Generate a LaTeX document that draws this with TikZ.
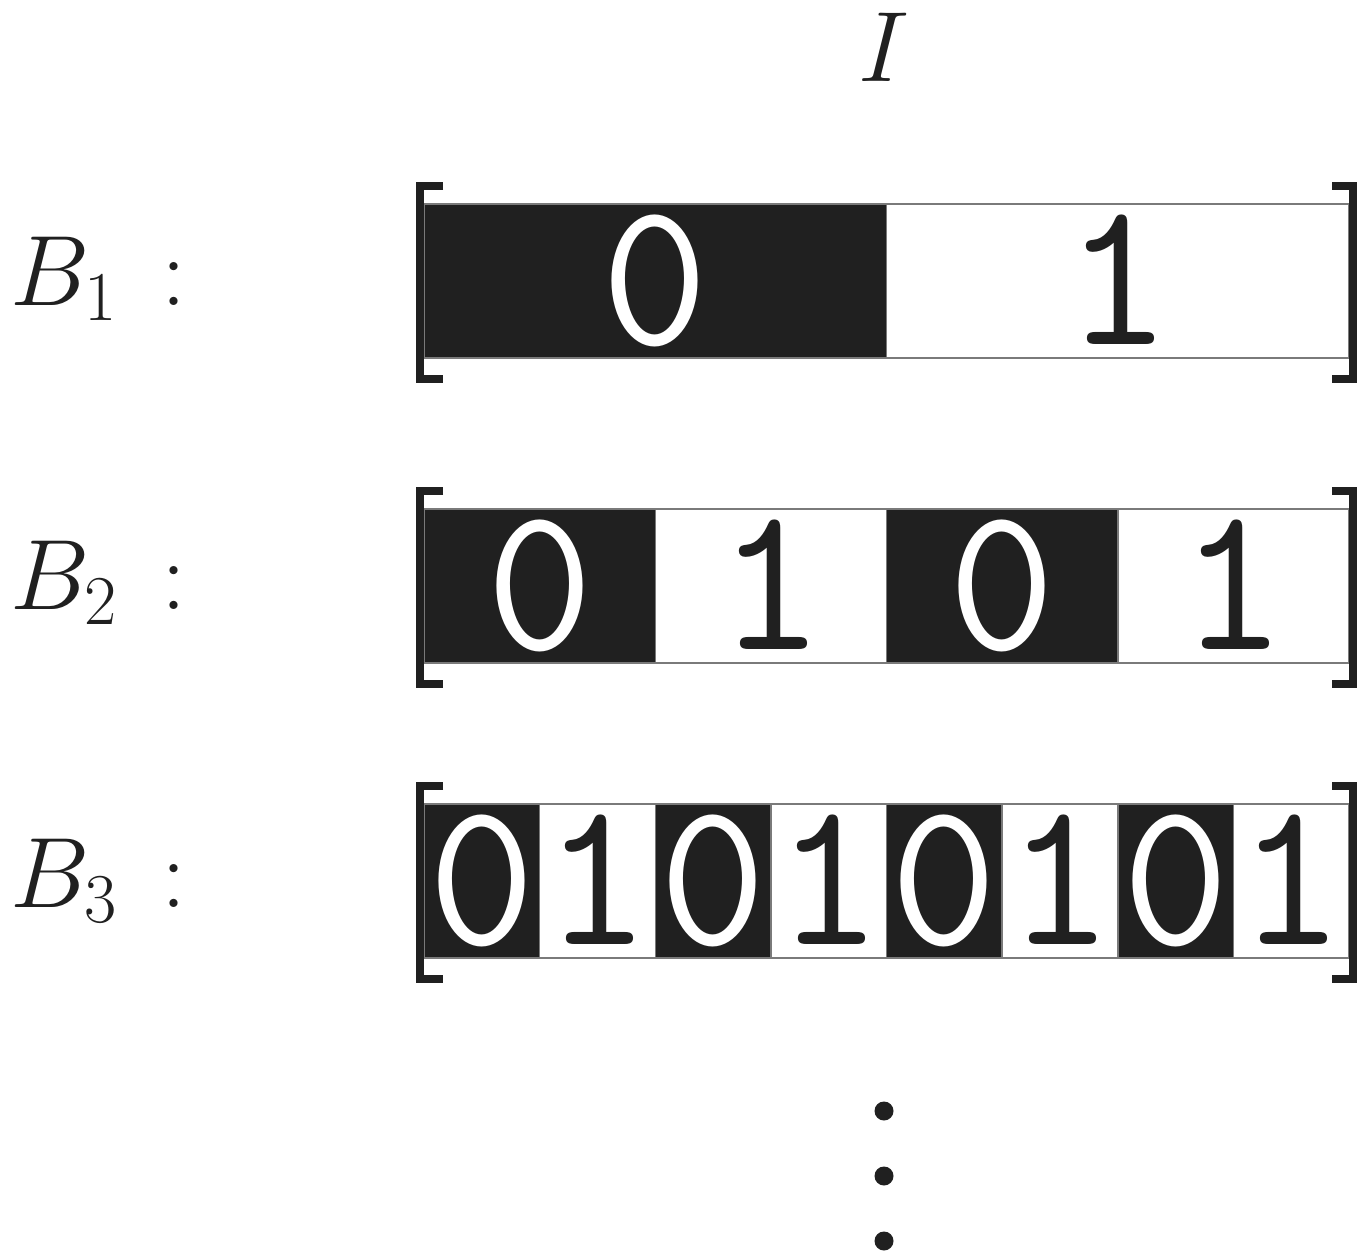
\RequirePackage{fix-cm}
\documentclass[tikz,border=0pt]{standalone}
\definecolor{ink}{HTML}{202020}
\definecolor{rulegray}{HTML}{7A7A7A}
\tikzset{
  cellbase/.style={rectangle, draw=rulegray, line width=1.5pt, inner sep=0pt,
    minimum height=154pt, text height=127pt, text depth=0pt,
    font=\fontsize{208}{208}\selectfont\ttfamily},
  darkcell/.style={cellbase, fill=ink, text=white},
  lightcell/.style={cellbase, fill=white, text=ink},
  bracketline/.style={draw=ink, line width=8pt, miter limit=10},
  rowlabel/.style={anchor=base west, inner sep=0pt, text=ink, font=\fontsize{100}{100}\selectfont},
  colonlabel/.style={anchor=base, inner sep=0pt, text=ink, font=\fontsize{100}{100}\selectfont},
  dotmark/.style={circle, fill=ink, inner sep=0pt, minimum size=19pt},
}
\begin{document}
\begin{tikzpicture}[x=1pt,y=-1pt]
\useasboundingbox (0,0) rectangle (1371,1253);
% title
\node[anchor=base, inner sep=0pt, text=ink, font=\fontsize{100}{100}\selectfont] (title) at (884,81) {$I$};
% rows
\foreach \r/\n/\tp/\bl in {1/2/204/305, 2/4/509/609, 3/8/804/907} {
  \pgfmathsetmacro\w{925/\n}
  \foreach \k in {1,...,\n} {
    \pgfmathtruncatemacro\odd{mod(\k,2)}
    \pgfmathsetmacro\cx{424+(\k-0.5)*\w}
    \pgfmathsetmacro\cy{\tp+77}
    \ifnum\odd=1
      \node[darkcell, minimum width=\w pt] (c\r-\k) at (\cx,\cy) {0};
    \else
      \node[lightcell, minimum width=\w pt] (c\r-\k) at (\cx,\cy) {1};
    \fi
  }
  \pgfmathsetmacro\bt{\tp-18}
  \pgfmathsetmacro\bb{\tp+154+21}
  \draw[bracketline] (443,\bt) -- (420,\bt) -- (420,\bb) -- (443,\bb);
  \draw[bracketline] (1332,\bt) -- (1353,\bt) -- (1353,\bb) -- (1332,\bb);
  \node[rowlabel] (lab\r) at (10,\bl) {$B_{\r}$};
  \node[colonlabel] (col\r) at (174,\bl) {:};
}
% continuation dots
\node[dotmark] (d1) at (884,1111) {};
\node[dotmark] (d2) at (884,1176) {};
\node[dotmark] (d3) at (884,1241) {};
\end{tikzpicture}
\end{document}
